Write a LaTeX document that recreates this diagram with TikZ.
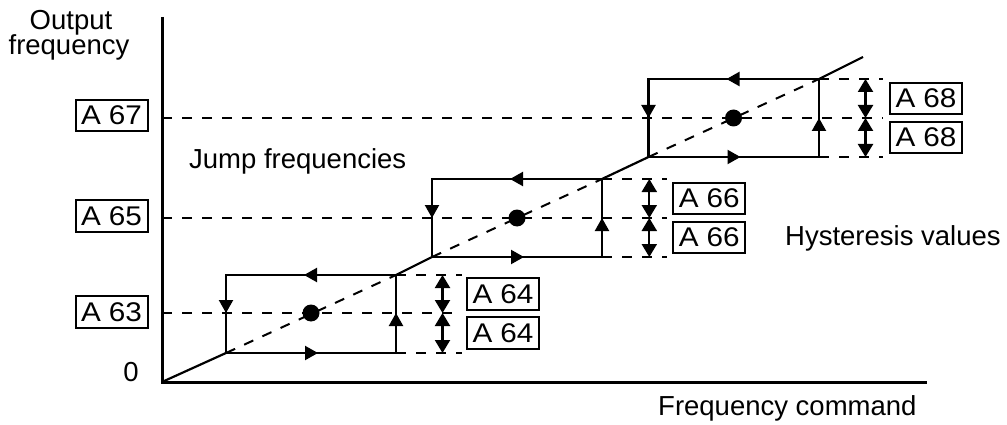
\documentclass[tikz,border=0pt]{standalone}
\usepackage{fontspec}
\setmainfont{Liberation Sans}
\newfontfamily\boxfont[FakeStretch=1.1]{Liberation Sans}
\usetikzlibrary{arrows.meta}
\tikzset{
  axisline/.style={line width=3pt},
  edgeline/.style={line width=2.2pt},
  dashline/.style={line width=2pt, dash pattern=on 10pt off 10pt},
  midtip/.style={line width=2.2pt, -{Triangle[length=13pt,width=14pt]}},
  dblarrow/.style={line width=2.2pt, {Triangle[length=13pt,width=15pt]}-{Triangle[length=13pt,width=15pt]}},
  lbl/.style={font=\fontsize{27.5}{30}\selectfont, inner sep=0pt},
  pbox/.style={draw, line width=2pt, minimum width=72pt, minimum height=31.5pt, inner sep=0pt, font=\boxfont\fontsize{27}{30}\selectfont},
  bigdot/.style={circle, fill, minimum size=17pt, inner sep=0pt},
}
\begin{document}
\begin{tikzpicture}[x=1pt,y=-1pt]
\useasboundingbox (0,0) rectangle (1007,425);
% axes
\coordinate (O) at (162,382);
\coordinate (ytop) at (162,17);
\coordinate (xend) at (927,382);
\draw[axisline] (ytop) -- (O) -- (xend);
% axis labels
\node[lbl, anchor=base] (out1) at (71,30) {Output};
\node[lbl, anchor=base] (out2) at (69,55) {frequency};
\node[lbl, anchor=base] (zero) at (131,381.5) {0};
\node[lbl, anchor=base west] (fcmd) at (658,415) {Frequency command};
\node[lbl, anchor=base west] (jump) at (189,168) {Jump frequencies};
\node[lbl, anchor=base west] (hyst) at (785,245) {Hysteresis values};
% left parameter boxes
\node[pbox] (a67) at (111.5,115.5) {A\hspace{0.3em}67};
\node[pbox] (a65) at (111.5,216) {A\hspace{0.3em}65};
\node[pbox] (a63) at (111.5,312) {A\hspace{0.3em}63};
% steps
\foreach \i/\L/\R/\T/\B/\M/\C/\A/\E/\X/\nm in {
  1/226/396/275/353/313/311/442.5/462/467/64,
  2/432/602/179/257/218/517/649.3/667/673.3/66,
  3/648.5/819/79/157/118/733.5/865.5/883/890/68}{
  \coordinate (tl\i) at (\L,\T);
  \coordinate (tr\i) at (\R,\T);
  \coordinate (bl\i) at (\L,\B);
  \coordinate (br\i) at (\R,\B);
  \coordinate (ma\i) at (162,\M);
  \coordinate (te\i) at (\E,\T);
  \coordinate (me\i) at (\E,\M);
  \coordinate (be\i) at (\E,\B);
  \coordinate (at\i) at (\A,\T);
  \coordinate (am\i) at (\A,\M);
  \coordinate (ab\i) at (\A,\B);
  % dashed lines
  \draw[dashline] (ma\i) -- (me\i);
  \draw[dashline] (tr\i) -- (te\i);
  \draw[dashline] (br\i) -- (be\i);
  \draw[dashline] (bl\i) -- (tr\i);
  % rectangle
  \draw[edgeline] (tr\i) -- (tl\i) -- (bl\i) -- (br\i) -- cycle;
  % direction arrowheads
  \draw[midtip] (\C+6,\T) -- (\C-7,\T);
  \draw[midtip] (\C-6,\B) -- (\C+7,\B);
  \draw[midtip] (\L,\M-13) -- (\L,\M);
  \draw[midtip] (\R,\M+13) -- (\R,\M);
  % dot
  \node[bigdot] (d\i) at (\C,\M) {};
  % hysteresis double arrows
  \draw[dblarrow] (at\i) -- (am\i);
  \draw[dblarrow] (am\i) -- (ab\i);
  % hysteresis boxes
  \node[pbox] (hu\i) at ({\X+36},{(\T+\M)/2}) {A\hspace{0.3em}\nm};
  \node[pbox] (hl\i) at ({\X+36},{(\M+\B)/2}) {A\hspace{0.3em}\nm};
}
% solid diagonal parts
\coordinate (dend) at (863,57);
\draw[edgeline] (O) -- (bl1);
\draw[edgeline] (tr1) -- (bl2);
\draw[edgeline] (tr2) -- (bl3);
\draw[edgeline] (tr3) -- (dend);
\end{tikzpicture}
\end{document}
